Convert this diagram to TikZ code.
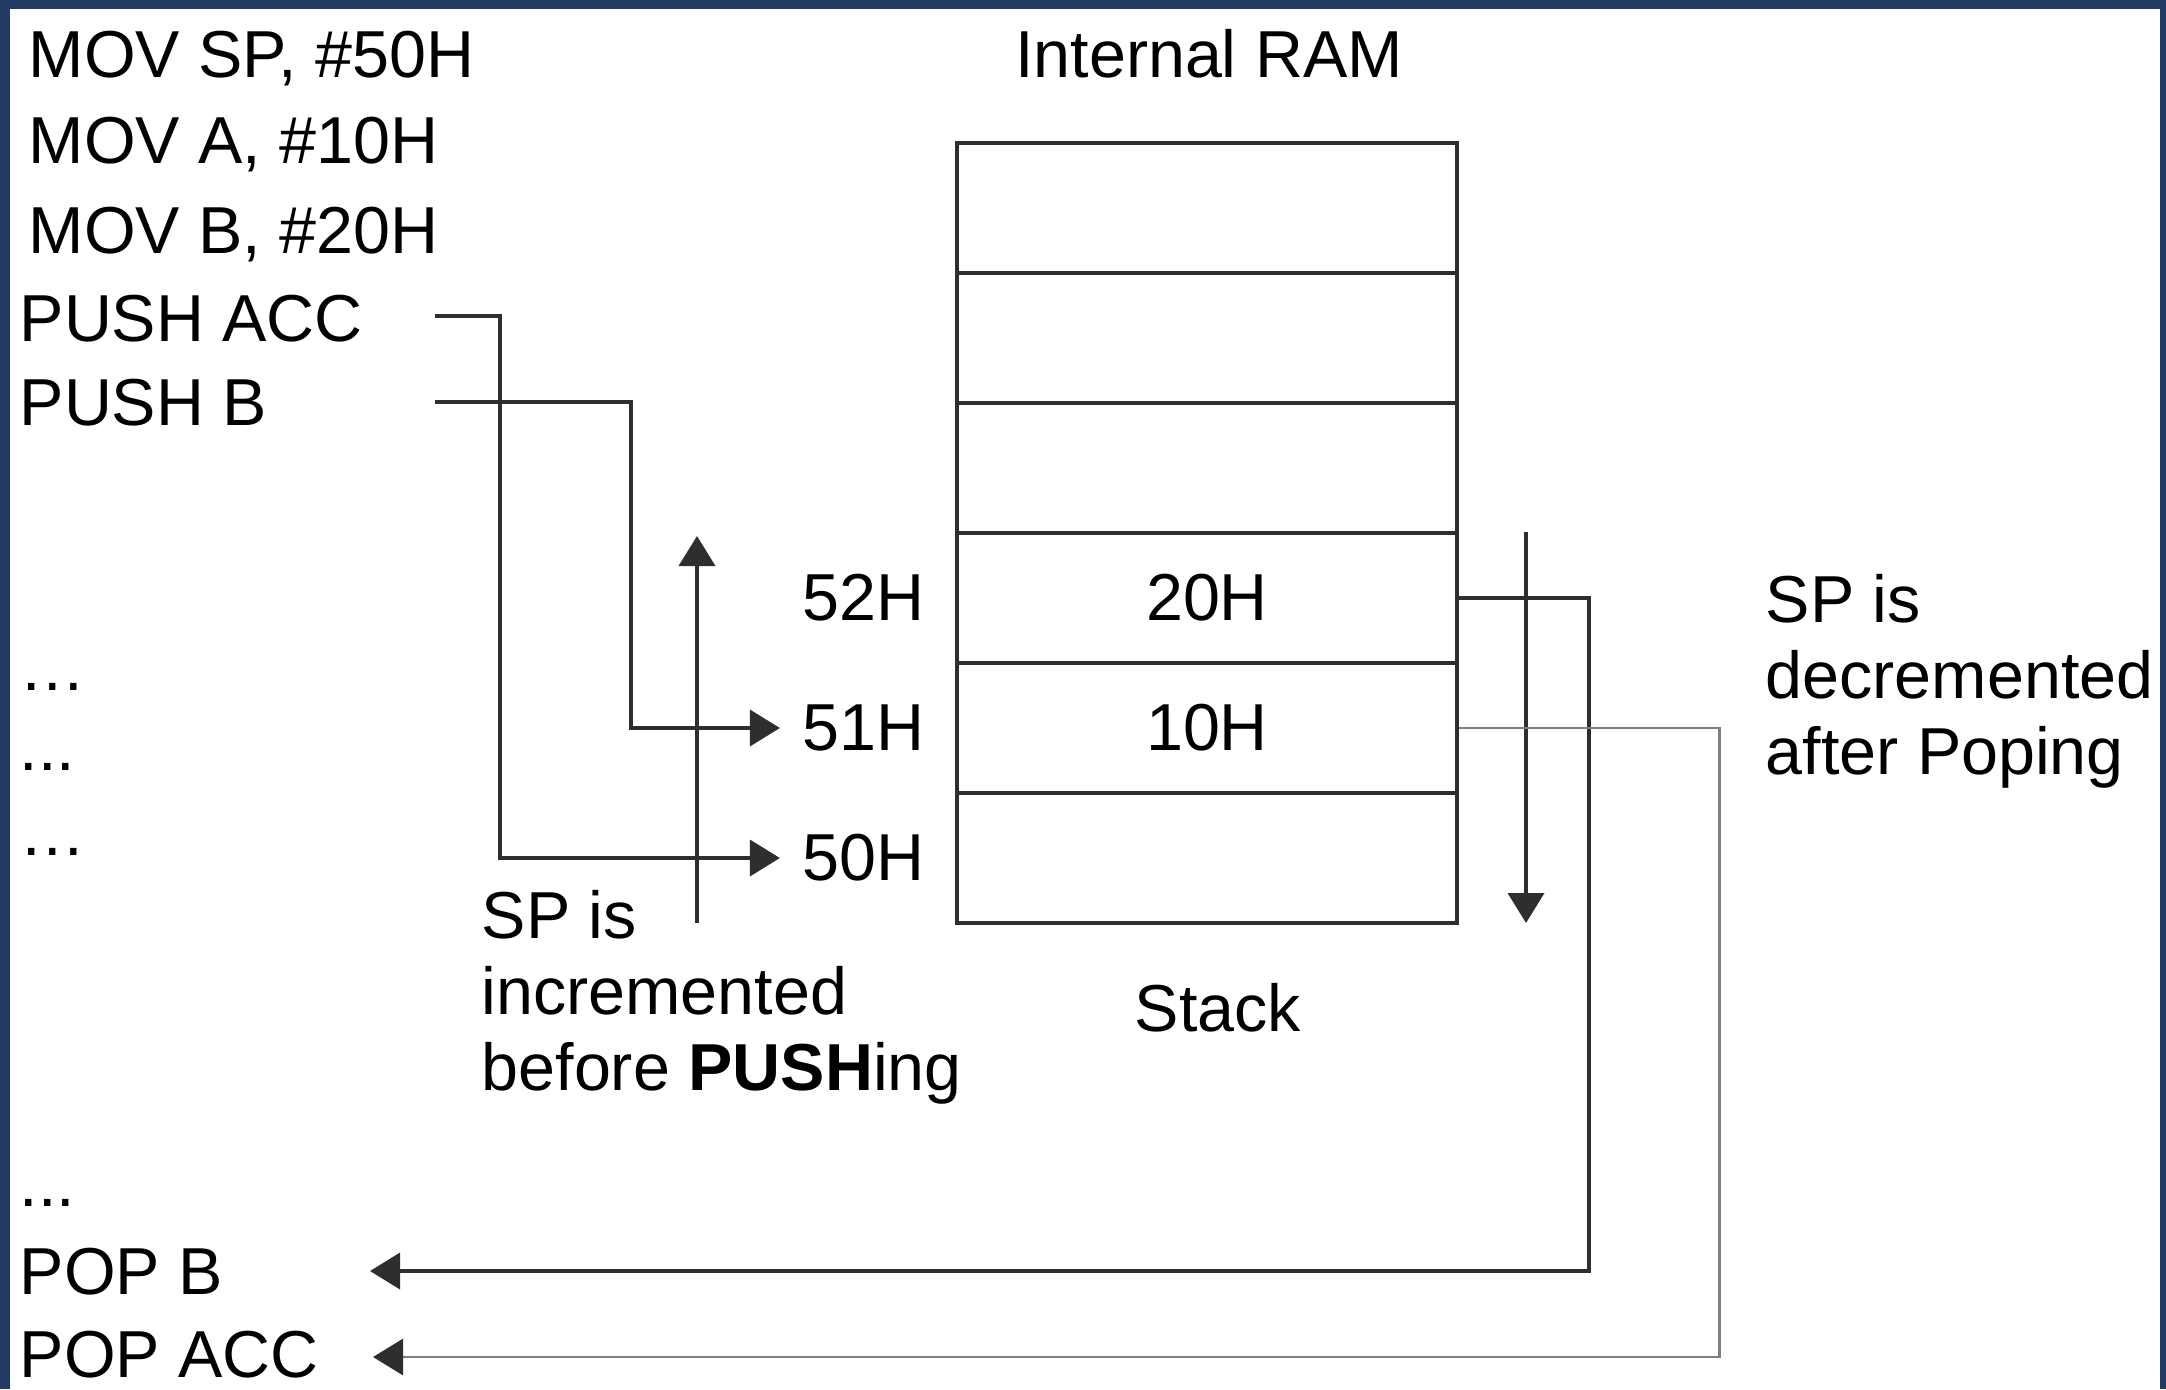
\documentclass[tikz,border=0pt]{standalone}
\usepackage{fontspec}
\setmainfont{Liberation Sans}
\usetikzlibrary{arrows.meta,positioning}

\definecolor{framecol}{HTML}{233A63}
\definecolor{linecol}{HTML}{2E2E2E}

\tikzset{
  txt/.style={inner sep=0pt, font=\fontsize{18.9}{21.6}\selectfont},
  cell/.style={txt, draw=linecol, line width=1.05pt, minimum width=5cm, minimum height=1.3cm},
  addr/.style={txt, inner sep=0.22cm},
  conn/.style={draw=linecol, line width=1.05pt},
  arr/.style={-{Triangle[length=0.3cm,width=0.36cm,color=linecol]}},
}

\begin{document}
\begin{tikzpicture}

% Frame
\fill[framecol] (0,0) rectangle (21.66,-13.89);
\fill[white] (0.10,-0.09) rectangle (21.60,-13.89);
\useasboundingbox (0,0) rectangle (21.66,-13.89);

% Program listing
\node[txt, anchor=base west] (movsp) at (0.28,-0.78) {MOV SP, \#50H};
\node[txt, anchor=base west] (mova) at (0.28,-1.64) {MOV A, \#10H};
\node[txt, anchor=base west] (movb) at (0.28,-2.54) {MOV B, \#20H};
\node[txt, anchor=base west] (pacc) at (0.19,-3.41) {PUSH ACC};
\node[txt, anchor=base west] (pb) at (0.19,-4.26) {PUSH B};
\node[txt, anchor=base west] (dots1) at (0.19,-6.90) {…};
\node[txt, anchor=base west] (dots2) at (0.19,-7.70) {...};
\node[txt, anchor=base west] (dots3) at (0.19,-8.55) {…};
\node[txt, anchor=base west] (dots4) at (0.19,-12.06) {...};
\node[txt, anchor=base west] (popb) at (0.19,-12.94) {POP B};
\node[txt, anchor=base west] (popacc) at (0.19,-13.77) {POP ACC};

% Internal RAM stack cells
\node[txt, anchor=base] (ram) at (12.09,-0.78) {Internal RAM};
\foreach \i/\val in {1/{},2/{},3/{},4/20H,5/10H,6/{}} {
    \node[cell] (c\i) at (12.07,{-2.08-1.3*(\i-1)}) {\val};
}
\node[txt, anchor=base] (stack) at (12.18,-10.31) {Stack};

% Addresses
\node[addr, left=0.08cm of c4] (a52) {52H};
\node[addr, left=0.08cm of c5] (a51) {51H};
\node[addr, left=0.08cm of c6] (a50) {50H};

% PUSH connections
\coordinate (paccout) at (4.35,-3.16);
\coordinate (pbout) at (4.35,-4.02);
\draw[conn, arr] (paccout) -- ++(0.65,0) |- (a50.west);
\draw[conn, arr] (pbout) -- ++(1.96,0) |- (a51.west);

% SP incremented
\coordinate (incbot) at (6.97,-9.23);
\coordinate (inctop) at (6.97,-5.36);
\draw[conn, arr] (incbot) -- (inctop);
\node[txt, anchor=north west, align=left] (inc) at (4.81,-8.90) {SP is\\incremented\\before \textbf{PUSH}ing};

% SP decremented
\coordinate (dectop) at (15.26,-5.32);
\coordinate (decbot) at (15.26,-9.23);
\draw[conn, arr] (dectop) -- (decbot);
\node[txt, anchor=north west, align=left] (dec) at (17.65,-5.74) {SP is\\decremented\\after Poping};

% POP connections
\coordinate (popbin) at (3.70,-12.71);
\coordinate (popaccin) at (3.73,-13.57);
\draw[conn, arr] (c4.east) -- ++(1.30,0) |- (popbin);
\draw[conn, draw=gray, line width=0.8pt, arr] (c5.east) -- ++(2.61,0) |- (popaccin);

\end{tikzpicture}
\end{document}
